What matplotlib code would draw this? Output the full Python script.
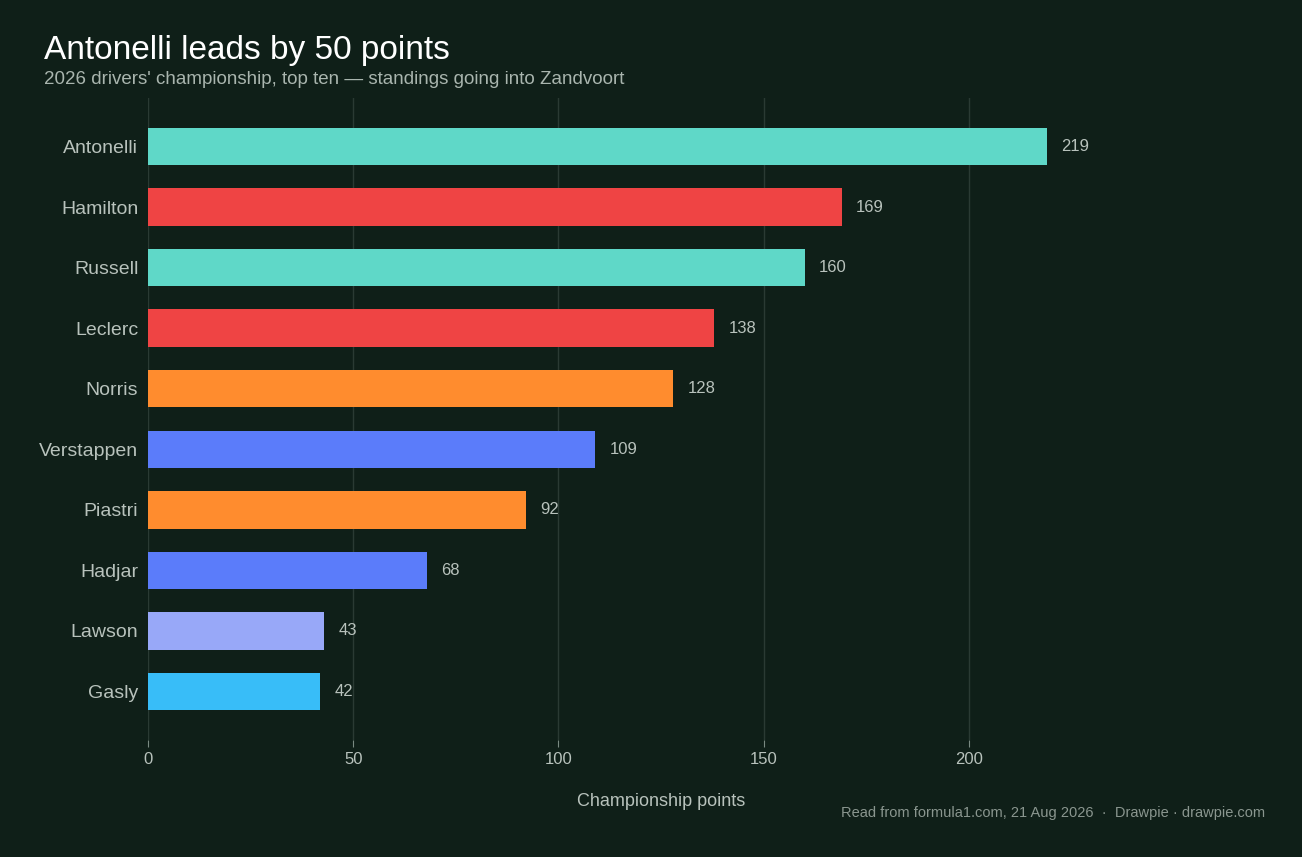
import matplotlib
matplotlib.use("Agg")
import matplotlib.pyplot as plt

drivers = ["Antonelli","Hamilton","Russell","Leclerc","Norris","Verstappen","Piastri","Hadjar","Lawson","Gasly"]
points = [219,169,160,138,128,109,92,68,43,42]
colors = ["#5fd8c8","#ef4444","#5fd8c8","#ef4444","#ff8c2e","#5b7cfa","#ff8c2e","#5b7cfa","#98a8f8","#38bdf8"]
xticks = [0,50,100,150,200]

plt.rcParams['font.family'] = ['Liberation Sans','DejaVu Sans']
bg = "#0f1f18"
fig = plt.figure(figsize=(13.02,8.57), dpi=100, facecolor=bg)
ax = fig.add_axes([148/1302, 1-740/857, (1174-148)/1302, (740-98)/857], facecolor=bg)
ax.barh(range(len(drivers)), points, height=0.62, color=colors, zorder=3)
for i,v in enumerate(points):
    ax.text(v+3.5, i, str(v), va='center', ha='left', color="#b8c2bc", fontsize=12)
ax.set_xlim(0,250)
ax.set_ylim(9.8,-0.8)
ax.set_yticks(range(len(drivers)))
ax.set_yticklabels(drivers, fontsize=14, color="#b8c2bc")
ax.set_xticks(xticks)
ax.set_xticklabels([str(t) for t in xticks], fontsize=12, color="#b8c2bc")
ax.tick_params(axis='y', length=0, pad=7)
ax.tick_params(axis='x', length=5, color="#7a8a82", pad=4)
ax.grid(axis='x', color="#2a3a33", linewidth=1, zorder=0)
for s in ax.spines.values():
    s.set_visible(False)
ax.set_xlabel("Championship points", fontsize=13, color="#b8c2bc", labelpad=18)
fig.text(44/1302, 1-50/857, "Antonelli leads by 50 points", fontsize=24, color="#ffffff", va='center')
fig.text(44/1302, 1-80/857, "2026 drivers' championship, top ten — standings going into Zandvoort", fontsize=13.5, color="#a9b5ae", va='center')
fig.text(1265/1302, 1-813/857, "Read from formula1.com, 21 Aug 2026  ·  Drawpie · drawpie.com", fontsize=10.5, color="#8a968f", ha='right', va='center')
fig.savefig("out.png", facecolor=bg)
